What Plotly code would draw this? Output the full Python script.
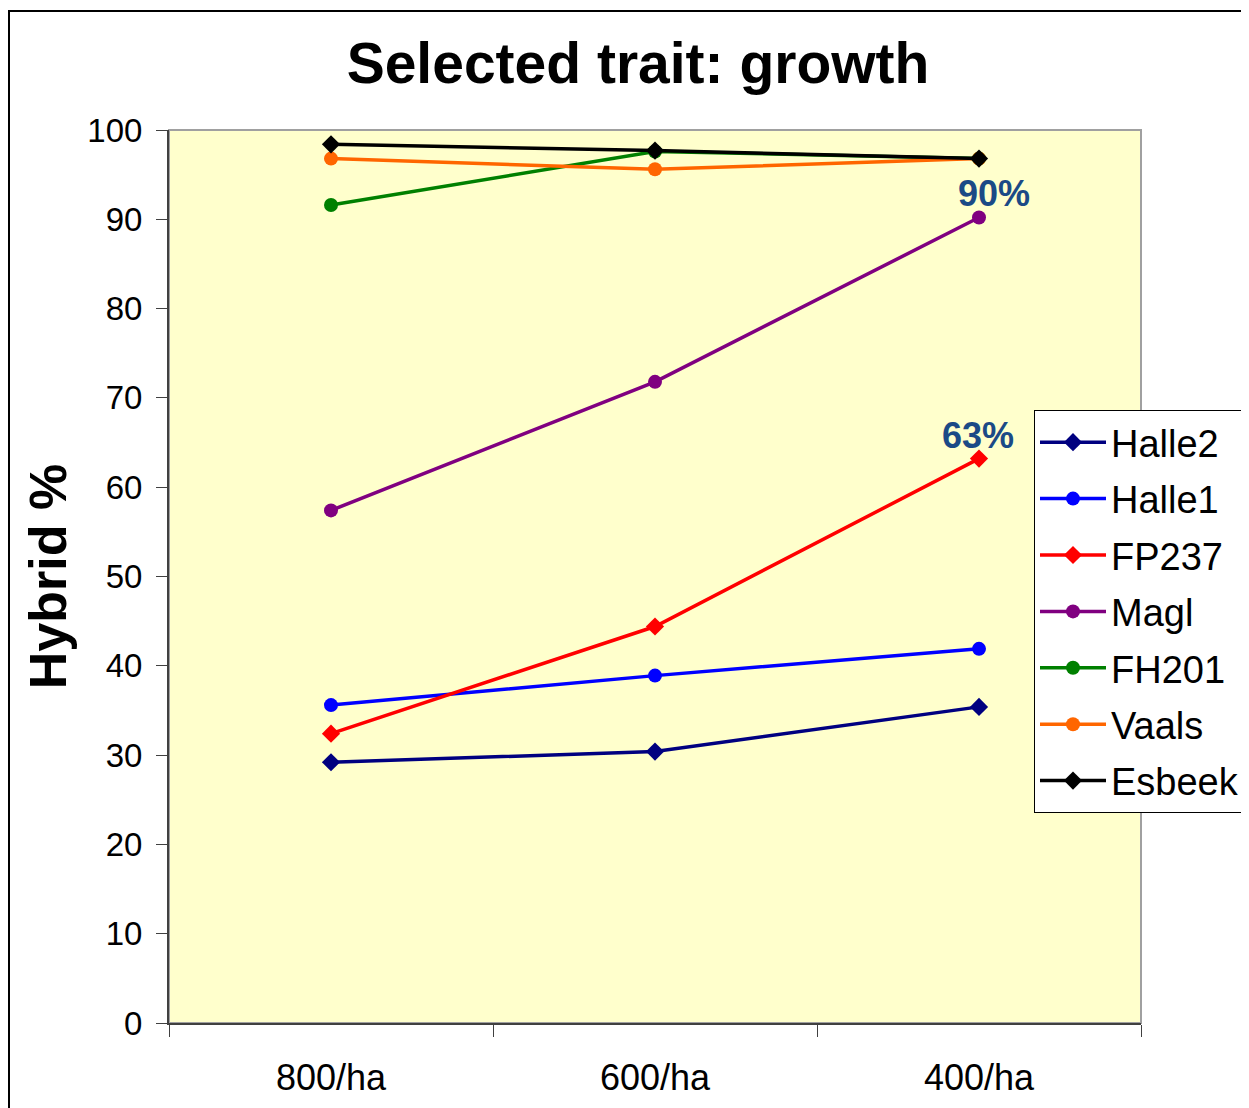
import plotly.graph_objects as go

categories = ["800/ha", "600/ha", "400/ha"]
series_names = ["Halle2", "Halle1", "FP237", "Magl", "FH201", "Vaals", "Esbeek"]
halle2 = [29.2, 30.4, 35.4]
halle1 = [35.6, 38.9, 41.9]
fp237 = [32.4, 44.4, 63.2]
magl = [57.4, 71.8, 90.2]
fh201 = [91.6, 97.6, 96.8]
vaals = [96.8, 95.6, 96.8]
esbeek = [98.4, 97.7, 96.8]
colors = ["#000080", "#0000FF", "#FF0000", "#800080", "#008000", "#FF6600", "#000000"]
symbols = ["diamond", "circle", "diamond", "circle", "circle", "circle", "diamond"]
annot_texts = ["90%", "63%"]

values = [halle2, halle1, fp237, magl, fh201, vaals, esbeek]

# plot area in figure pixels (page has 8px body offset)
L, R, T, B = 161, 1133, 122, 1015
W, H = 1249, 1108
pw, ph = R - L, B - T

fig = go.Figure()
for i, (name, vals, c, s) in enumerate(zip(series_names, values, colors, symbols)):
    fig.add_trace(go.Scatter(
        x=categories, y=vals, name=name, mode="lines+markers", legendgroup=f"g{i}",
        line=dict(color=c, width=3.5),
        marker=dict(color=c, symbol=s, size=14),
    ))

fig.add_annotation(x=categories[2], y=magl[2], text="<b>" + annot_texts[0] + "</b>", showarrow=False,
                   xshift=15, yshift=24, font=dict(family="Arial", size=36, color="#1B4A86"))
fig.add_annotation(x=categories[2], y=fp237[2], text="<b>" + annot_texts[1] + "</b>", showarrow=False,
                   xshift=-1, yshift=23, font=dict(family="Arial", size=36, color="#1B4A86"))

# outer chart border
fig.add_shape(type="rect", xref="paper", yref="paper",
              x0=(1 - L) / pw, x1=(1270 - L) / pw,
              y0=-0.15, y1=1 + (T - 3) / ph,
              line=dict(color="black", width=2), fillcolor="rgba(0,0,0,0)", layer="below")

fig.update_layout(
    width=W, height=H,
    margin=dict(l=L, r=W - R, t=T, b=H - B),
    paper_bgcolor="white", plot_bgcolor="#FFFFCC",
    font=dict(family="Arial", color="black"),
    title=dict(text="<b>Selected trait: growth</b>", x=(638 - 8) / W, xanchor="center",
               y=1 - (63 - 8) / H, yanchor="middle", font=dict(size=57, family="Arial")),
    showlegend=True,
    legend=dict(x=(1034 - 8 - L) / pw, y=(B - (410 - 8)) / ph, xanchor="left", yanchor="top",
                bgcolor="white", bordercolor="black", borderwidth=1,
                font=dict(size=38, family="Arial"), itemwidth=66, tracegroupgap=4),
    xaxis=dict(type="category", range=[-0.5, 2.5], tickson="boundaries", ticks="outside",
               ticklen=12, tickwidth=1, tickcolor="#404040",
               showline=True, linecolor="#404040", linewidth=2, mirror=False,
               showgrid=False, tickfont=dict(size=36, family="Arial"), zeroline=False,
               ticklabelstandoff=22),
    yaxis=dict(range=[0, 100], dtick=10, ticks="outside", ticklen=11, tickwidth=1, tickcolor="#404040",
               showline=True, linecolor="#404040", linewidth=2, mirror=False,
               showgrid=False, zeroline=False, tickfont=dict(size=33, family="Arial"),
               ticklabelstandoff=7,
               title=dict(text="<b>Hybrid %</b>", font=dict(size=52, family="Arial"), standoff=4)),
)
# grey border of plot area
fig.add_shape(type="rect", xref="paper", yref="paper", x0=0, x1=1, y0=0, y1=1,
              line=dict(color="#A0A0A0", width=2), layer="below")

fig.write_html("out.html")
